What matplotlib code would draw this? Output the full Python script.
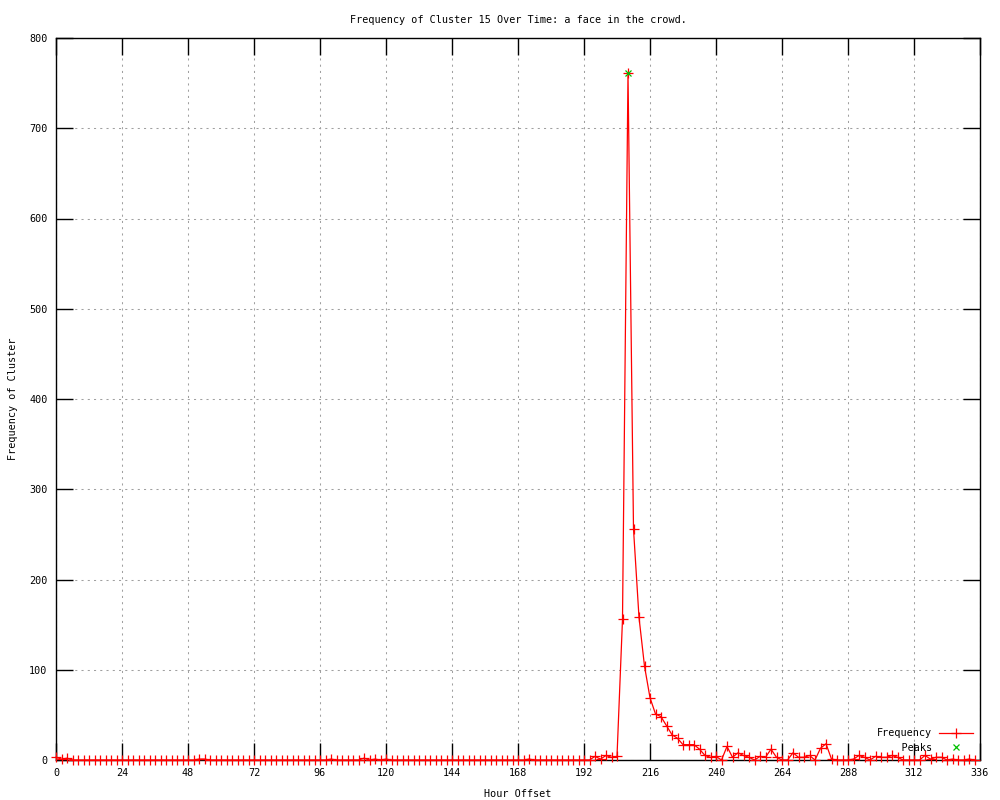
import matplotlib
matplotlib.use('Agg')
import matplotlib.pyplot as plt

# hours sampled every 2 hours, 0..334
hours = list(range(0, 336, 2))
freq = [
    3, 1, 2, 0, 0, 0, 0, 0, 0, 0, 0, 0,
    0, 0, 0, 0, 0, 0, 0, 0, 0, 0, 0, 0,
    0, 0, 1, 1, 0, 0, 0, 0, 0, 0, 0, 0,
    0, 0, 0, 0, 0, 0, 0, 0, 0, 0, 0, 0,
    0, 0, 1, 0, 0, 0, 0, 0, 2, 0, 1, 0,
    1, 0, 0, 0, 0, 0, 0, 0, 0, 0, 0, 0,
    0, 0, 0, 0, 0, 0, 0, 0, 0, 0, 0, 0,
    0, 0, 1, 0, 0, 0, 0, 0, 0, 0, 0, 0,
    0, 0, 4, 1, 5, 3, 4, 156, 761, 256, 158, 104,
    69, 51, 48, 38, 28, 24, 17, 17, 17, 12, 5, 3,
    4, 0, 15, 3, 8, 5, 3, 0, 4, 3, 12, 3,
    0, 0, 8, 3, 3, 5, 0, 13, 18, 1, 0, 0,
    0, 1, 5, 3, 0, 4, 3, 3, 5, 3, 0, 0,
    0, 0, 5, 1, 3, 3, 0, 1, 0, 0, 1, 0,
]
peak_hours = [208]
peak_vals = [761]

xticks = list(range(0, 337, 24))
yticks = list(range(0, 801, 100))

plt.rcParams['font.family'] = 'DejaVu Sans Mono'
fs = 7.3

fig = plt.figure(figsize=(10, 8), dpi=100)
ax = fig.add_axes([0.056, 0.05, 0.924, 0.9025])

ax.plot(hours, freq, color='#ff0000', lw=0.9, marker='+', ms=6.5, mew=0.9,
        clip_on=False, label='Frequency', zorder=3)
ax.plot(peak_hours, peak_vals, ls='none', marker='x', ms=5, mew=0.9,
        color='#00c000', label='    Peaks', zorder=4)

ax.set_xlim(0, 336)
ax.set_ylim(0, 800)
ax.set_xticks(xticks)
ax.set_yticks(yticks)
ax.grid(True, color='#a0a0a0', lw=0.75, ls=(0, (2, 4)))
ax.tick_params(direction='in', length=12, width=1, top=True, right=True,
               pad=6, labelsize=fs)
for s in ax.spines.values():
    s.set_linewidth(1)

ax.set_title('Frequency of Cluster 15 Over Time: a face in the crowd.',
             fontsize=fs, pad=11)
ax.set_xlabel('Hour Offset', fontsize=fs, labelpad=8)
ax.set_ylabel('Frequency of Cluster', fontsize=fs, labelpad=8)

leg = ax.legend(loc='lower right', markerfirst=False, frameon=False,
                fontsize=fs, handlelength=3.3, labelspacing=0.45,
                borderaxespad=0.3, handletextpad=0.7)

fig.savefig('out.png', dpi=100)
